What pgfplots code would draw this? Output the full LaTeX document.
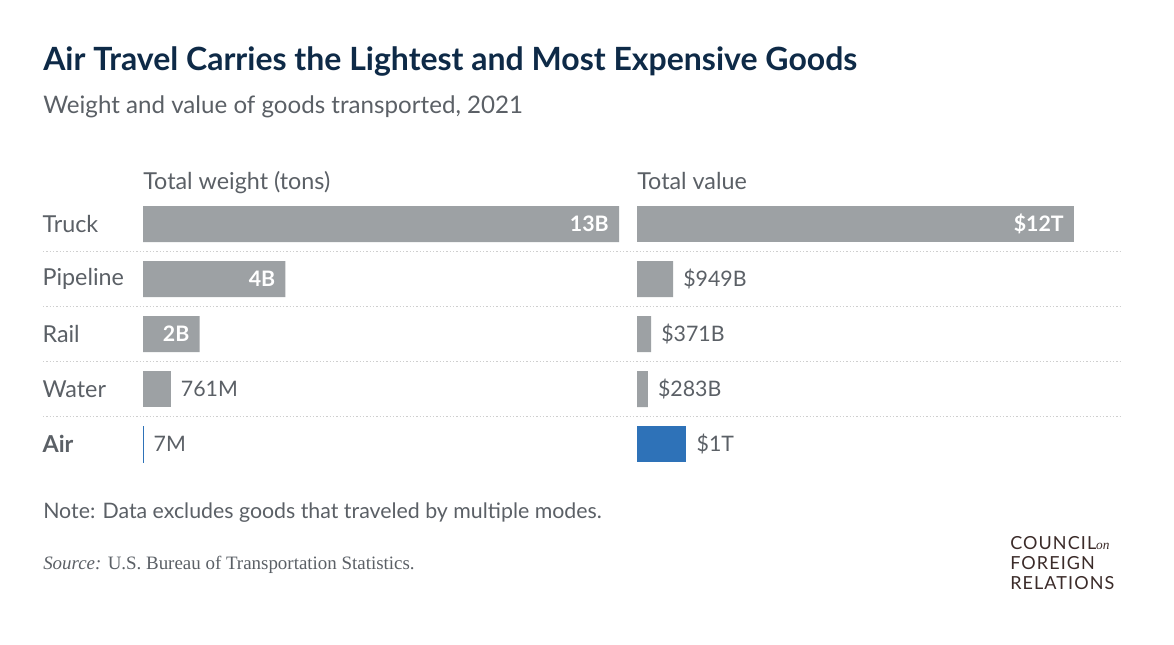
\documentclass[border=0pt]{standalone}
\usepackage{fontspec}
\setmainfont{Lato}
\newfontfamily\serif{Liberation Serif}
\newfontfamily\logofont[LetterSpace=6]{Lato}
\usepackage{pgfplots}
\pgfplotsset{compat=1.18}
\definecolor{navy}{HTML}{0E2A47}
\definecolor{txt}{HTML}{5B6066}
\definecolor{bargray}{HTML}{9DA1A4}
\definecolor{cfrblue}{HTML}{2E72B8}
\definecolor{gridc}{HTML}{CFCFCF}
\definecolor{logoc}{HTML}{3B2B29}
\newcommand{\lbl}{\fontsize{16}{19}\selectfont}
\newcommand{\rowlbl}{\fontsize{17.5}{21}\selectfont}
\pgfplotsset{
  panel/.style={
    xbar, bar width=27pt, bar shift=0pt,
    scale only axis, height=206.25pt,
    y dir=reverse, ymin=-0.5, ymax=4.5, xmin=0,
    enlargelimits=false, clip=false,
    axis line style={draw=none}, major tick style={draw=none},
    xtick=\empty,
  },
  inlbl/.style={nodes near coords, point meta=explicit symbolic,
    nodes near coords style={anchor=east, inner sep=0pt, xshift=-7.5pt,
      text=white, font=\lbl\bfseries}},
  outlbl/.style={nodes near coords, point meta=explicit symbolic,
    nodes near coords style={anchor=west, inner sep=0pt, xshift=7.5pt,
      text=txt, font=\lbl}},
}
\begin{document}
\begin{tikzpicture}[x=0.75pt,y=0.75pt]
\fill[white] (0,0) rectangle (1174,644);
% titles
\node[anchor=base west, inner sep=0pt, text=navy, font=\fontsize{24}{28}\selectfont\bfseries] at (43,573)
  {Air Travel Carries the Lightest and Most Expensive Goods};
\node[anchor=base west, inner sep=0pt, text=txt, font=\fontsize{18.1}{21}\selectfont] at (43,530)
  {Weight and value of goods transported, 2021};
\node[anchor=base west, inner sep=0pt, text=txt, font=\rowlbl] at (143,455) {Total weight (tons)};
\node[anchor=base west, inner sep=0pt, text=txt, font=\rowlbl] at (637,455) {Total value};
% dotted separators
\foreach \yy in {393,338,283,228}
  \draw[gridc, line width=0.75pt, dash pattern=on 1pt off 1.5pt] (43,\yy) -- (1120,\yy);
% left panel
\begin{axis}[panel, at={(107.25pt,335.625pt)}, anchor=north west,
  width=357pt, xmax=13.1,
  ytick={0,1,2,3,4}, yticklabels={Truck,Pipeline,Rail,Water,\textbf{Air}},
  yticklabel style={anchor=west, inner sep=0pt, xshift=-71.25pt, text=txt, font=\rowlbl}]
\addplot[fill=bargray, draw=none, inlbl] coordinates {(13.1,0)[13B] (3.92,1)[4B] (1.56,2)[2B]};
\addplot[fill=bargray, draw=none, outlbl] coordinates {(0.761,3)[761M]};
\addplot[fill=cfrblue, draw=cfrblue, line width=0.6pt, outlbl] coordinates {(0.007,4)[7M]};
\end{axis}
% right panel
\begin{axis}[panel, at={(477.75pt,335.625pt)}, anchor=north west,
  width=327.75pt, xmax=11.5, ytick=\empty]
\addplot[fill=bargray, draw=none, inlbl] coordinates {(11.5,0)[\$12T]};
\addplot[fill=bargray, draw=none, outlbl] coordinates {(0.949,1)[\$949B] (0.371,2)[\$371B] (0.283,3)[\$283B]};
\addplot[fill=cfrblue, draw=none, outlbl] coordinates {(1.3,4)[\$1T]};
\end{axis}
% footer
\node[anchor=base west, inner sep=0pt, text=txt, font=\fontsize{16}{19}\selectfont] at (43,126)
  {Note: Data excludes goods that traveled by multiple modes.};
\node[anchor=base west, inner sep=0pt, text=txt, font=\fontsize{14.2}{17}\selectfont\serif] at (43,75)
  {\itshape Source:\upshape{} U.S. Bureau of Transportation Statistics.};
% logo
\node[anchor=base west, inner sep=0pt, text=logoc, font=\fontsize{13.5}{16}\selectfont\logofont] at (1010,95)
  {COUNCIL{\serif\itshape\fontsize{10}{12}\selectfont on}};
\node[anchor=base west, inner sep=0pt, text=logoc, font=\fontsize{13.5}{16}\selectfont\logofont] at (1010,75) {FOREIGN};
\node[anchor=base west, inner sep=0pt, text=logoc, font=\fontsize{13.5}{16}\selectfont\logofont] at (1010,55) {RELATIONS};
\end{tikzpicture}
\end{document}
